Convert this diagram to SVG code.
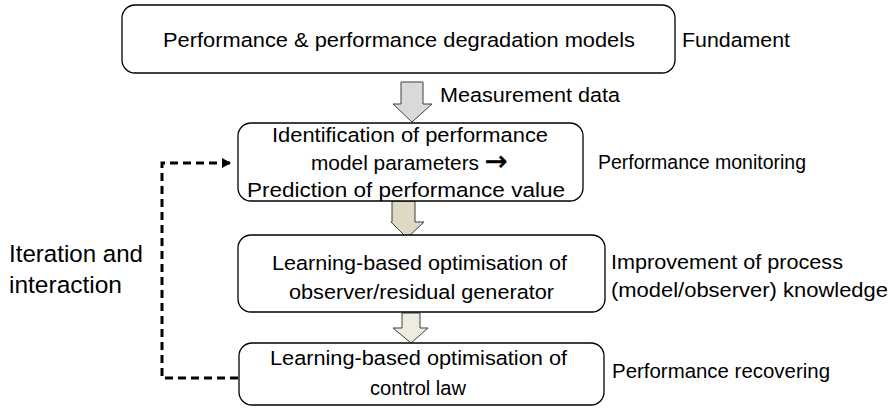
<svg xmlns="http://www.w3.org/2000/svg" width="893" height="408" viewBox="0 0 893 408">
<defs>
<style>
.box{fill:#fff;stroke:#000;stroke-width:1.3}
.t{font-family:"Liberation Sans",Arial,sans-serif;font-size:20.5px;fill:#000}
.c{text-anchor:middle}
.big{font-size:24.5px}
.sym{font-family:"DejaVu Sans",sans-serif;font-size:27px}
.barrow{stroke:#3f3f3f;stroke-width:1}
.dash{fill:none;stroke:#000;stroke-width:3;stroke-dasharray:8 5}
</style>
<marker id="ah" markerWidth="10" markerHeight="10" refX="8" refY="5" orient="auto" markerUnits="userSpaceOnUse">
<path d="M0,0 L9,5 L0,10 Z" fill="#000"/>
</marker>
</defs>
<rect width="893" height="408" fill="#fff"/>

<g id="connectors">
<path class="barrow" fill="#d9d9d9" d="M401,82 H423 V104 H432 L412,122 L393,104 H401 Z"/>
<path class="barrow" fill="#ddd9c3" d="M392,201 H415 V222 H424 L407,238 L391,222 H392 Z"/>
<path class="barrow" fill="#eeece1" d="M402,313 H420 V328 H428 L411,343 L393,328 H402 Z"/>
<path class="dash" d="M238,378 H162 V163 H230" marker-end="url(#ah)"/>
</g>

<g id="fundament">
<rect class="box" x="122" y="5" width="553" height="68" rx="13"/>
<text class="t" x="163" y="47" textLength="472" lengthAdjust="spacingAndGlyphs">Performance &amp; performance degradation models</text>
</g>
<g id="monitoring">
<rect class="box" x="238" y="123" width="345" height="78" rx="13"/>
<text class="t" x="272" y="142" textLength="276" lengthAdjust="spacingAndGlyphs">Identification of performance</text>
<text class="t" x="311" y="170"><tspan textLength="168" lengthAdjust="spacingAndGlyphs">model parameters</tspan><tspan class="sym" x="485" y="170" stroke="#000" stroke-width="0.6">→</tspan></text>
<text class="t" x="247" y="197" textLength="318" lengthAdjust="spacingAndGlyphs">Prediction of  performance value</text>
</g>
<g id="observer">
<rect class="box" x="238" y="235" width="367" height="77" rx="13"/>
<text class="t" x="272" y="270" textLength="295" lengthAdjust="spacingAndGlyphs">Learning-based optimisation of</text>
<text class="t" x="289" y="299" textLength="265" lengthAdjust="spacingAndGlyphs">observer/residual generator</text>
</g>
<g id="control">
<rect class="box" x="239" y="343" width="365" height="62" rx="13"/>
<text class="t" x="270" y="365" textLength="297" lengthAdjust="spacingAndGlyphs">Learning-based optimisation of</text>
<text class="t" x="370" y="395" textLength="96" lengthAdjust="spacingAndGlyphs">control law</text>
</g>

<g id="labels">
<text class="t" x="682" y="47" textLength="108" lengthAdjust="spacingAndGlyphs">Fundament</text>
<text class="t" x="440" y="102" textLength="180" lengthAdjust="spacingAndGlyphs">Measurement data</text>
<text class="t" x="598" y="169" textLength="208" lengthAdjust="spacingAndGlyphs">Performance monitoring</text>
<text class="t" x="611" y="269" textLength="232" lengthAdjust="spacingAndGlyphs">Improvement of process</text>
<text class="t" x="611" y="297" textLength="277" lengthAdjust="spacingAndGlyphs">(model/observer) knowledge</text>
<text class="t" x="612" y="378" textLength="218" lengthAdjust="spacingAndGlyphs">Performance recovering</text>
<text class="t big" x="9" y="262" textLength="134" lengthAdjust="spacingAndGlyphs">Iteration and</text>
<text class="t big" x="9" y="293" textLength="113" lengthAdjust="spacingAndGlyphs">interaction</text>
</g>
</svg>
